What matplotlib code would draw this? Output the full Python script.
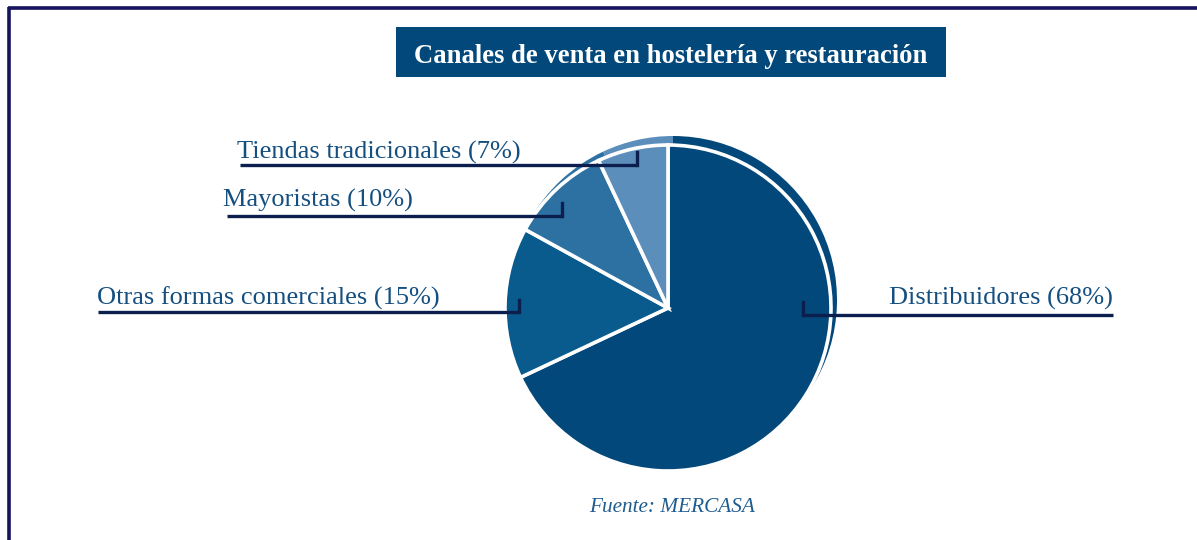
import matplotlib.pyplot as plt
from matplotlib.patches import Rectangle

categories = ["Distribuidores", "Otras formas comerciales", "Mayoristas", "Tiendas tradicionales"]
values = [68, 15, 10, 7]
colors = ["#03487A", "#0A5B8D", "#2D71A3", "#5C8EBB"]
title = "Canales de venta en hostelería y restauración"
source = "Fuente: MERCASA"

W, H = 1197, 540
fig = plt.figure(figsize=(W / 100, H / 100), dpi=100)
ax = fig.add_axes([0, 0, 1, 1])

def Y(y):
    return H - y

cx, cy, r = 668, 308, 163
# back "3D" rim
ax.pie(values, colors=colors, startangle=90, counterclock=False,
       center=(cx + 5, Y(cy - 8)), radius=r + 1,
       wedgeprops=dict(linewidth=0))
ax.pie(values, colors=colors, startangle=90, counterclock=False,
       center=(cx, Y(cy)), radius=r,
       wedgeprops=dict(edgecolor="white", linewidth=2.6))

ax.set_xlim(0, W)
ax.set_ylim(0, H)
ax.set_aspect("auto")
ax.axis("off")

serif = ["Liberation Serif", "DejaVu Serif"]
txt_color = "#154F80"
line_color = "#0B1E4D"

# label layout: (text_x, text_baseline, align, line_x0, line_x1, line_y, tick_x, tick_top)
layout = [
    (1113, 305, "right", 803, 1113, 315, 803, 302),
    (97, 305, "left", 98, 519, 312, 519, 300),
    (223, 207, "left", 227, 562, 216, 562, 203),
    (237, 159, "left", 240, 637, 165, 637, 152),
]
for cat, v, (tx, ty, ha, x0, x1, ly, kx, kt) in zip(categories, values, layout):
    ax.text(tx, Y(ty), f"{cat} ({v}%)", ha=ha, va="baseline", fontsize=19,
            family=serif, color=txt_color)
    ax.plot([x0, x1], [Y(ly), Y(ly)], color=line_color, lw=2.4,
            solid_capstyle="butt")
    ax.plot([kx, kx], [Y(kt), Y(ly)], color=line_color, lw=2.4,
            solid_capstyle="projecting")

# title box
ax.add_patch(Rectangle((396, Y(77)), 550, 50, facecolor="#03487A", edgecolor="none"))
ax.text(671, Y(63), title, ha="center", va="baseline", fontsize=19.2,
        fontweight="bold", family=serif, color="white")

# source
ax.text(672, Y(512), source, ha="center", va="baseline", fontsize=15.3,
        style="italic", family=serif, color="#1F5C8F")

# frame lines
ax.plot([8, W], [Y(8), Y(8)], color="#16135F", lw=2.6, solid_capstyle="butt")
ax.plot([9, 9], [Y(7), 0], color="#16135F", lw=2.6, solid_capstyle="butt")

fig.savefig("out.png", dpi=100)
